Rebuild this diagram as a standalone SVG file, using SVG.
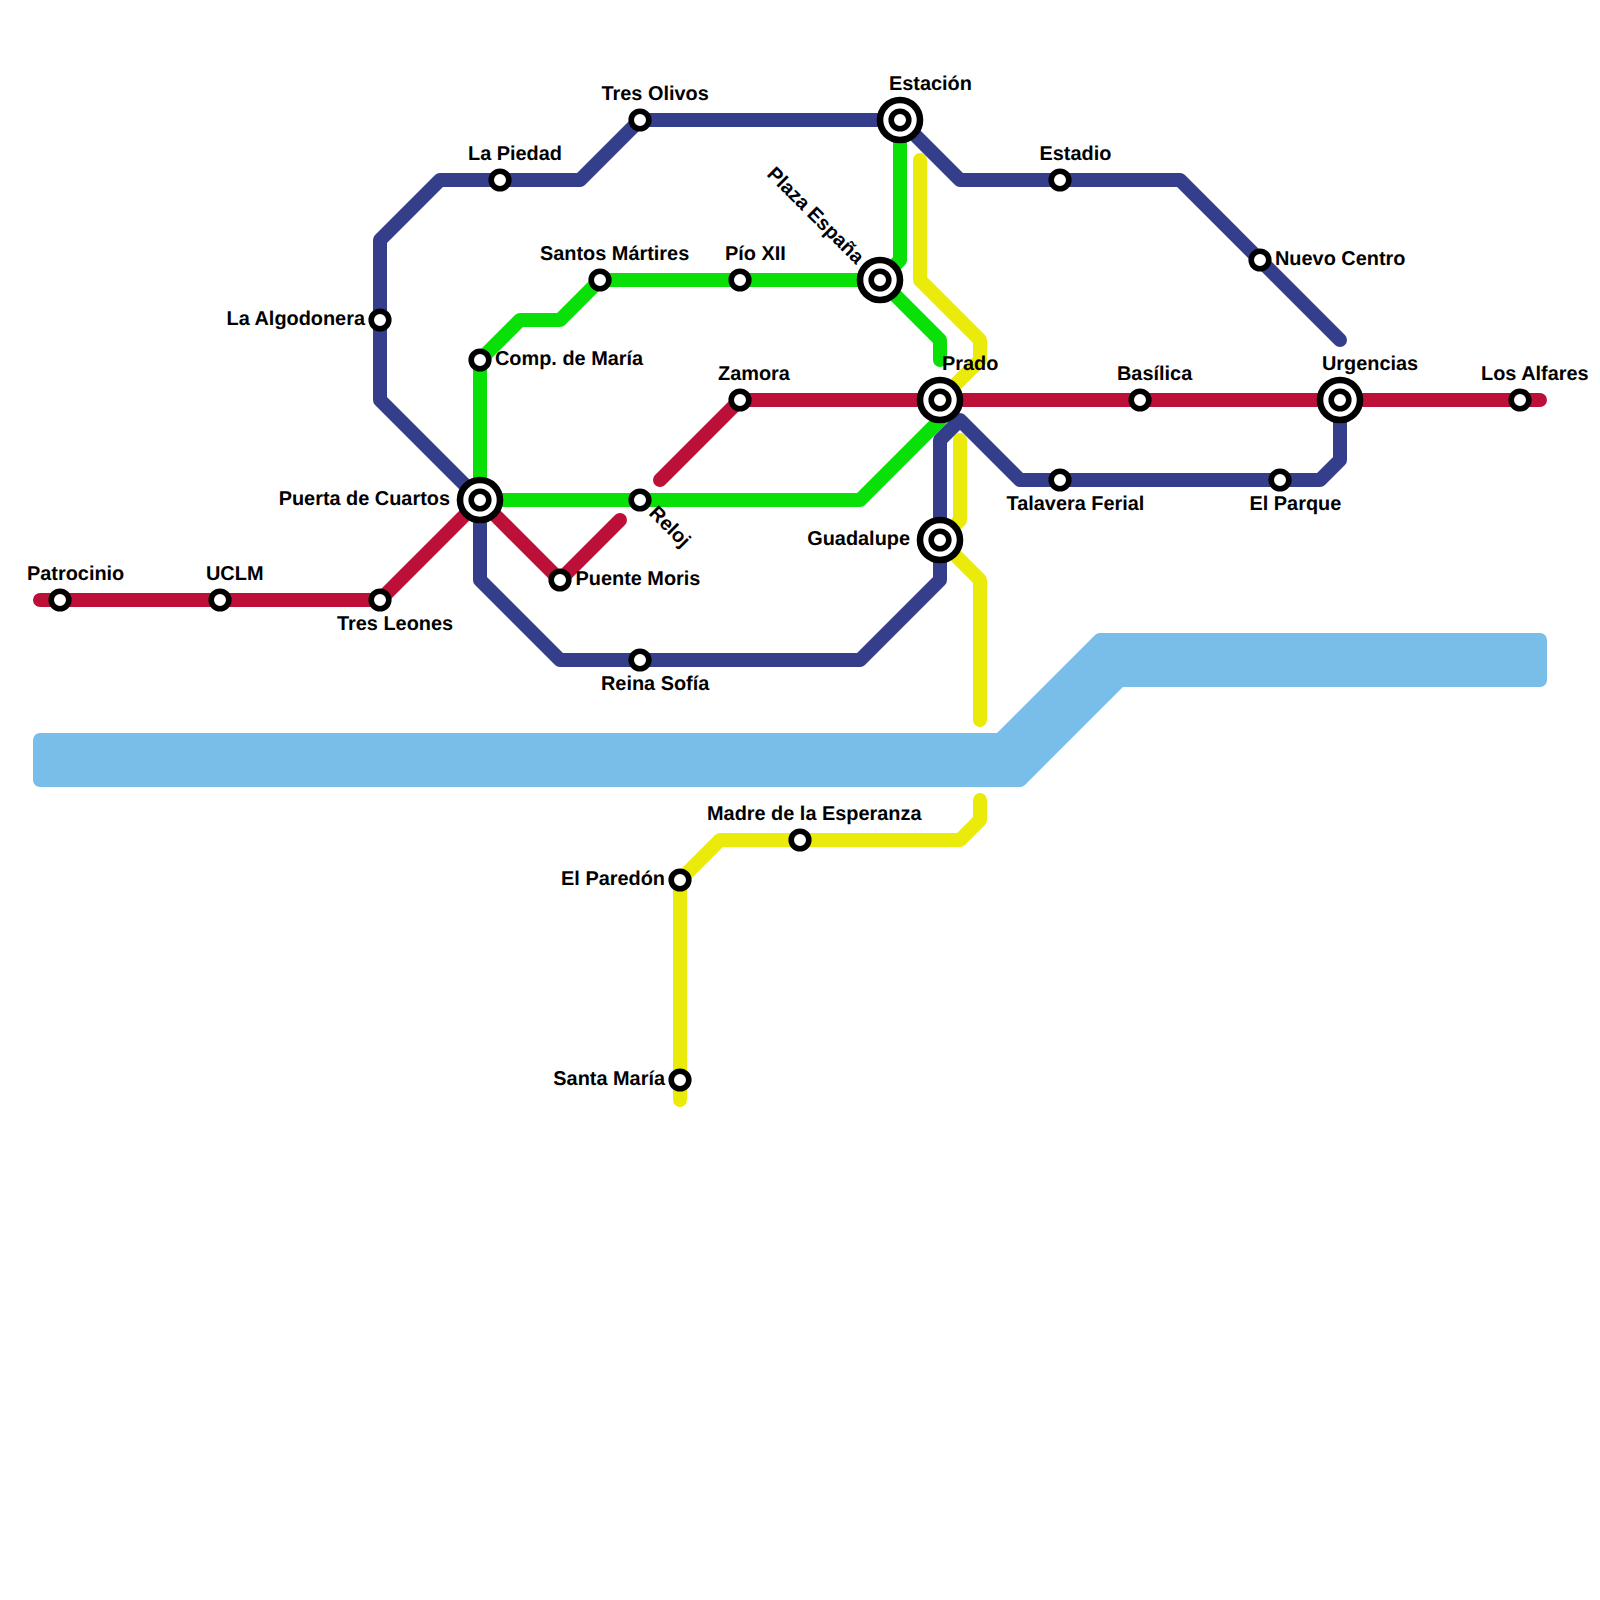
<svg xmlns="http://www.w3.org/2000/svg" width="1600" height="1600" viewBox="0 0 1600 1600">
<style>
.l{fill:none;stroke-width:14;stroke-linecap:round;stroke-linejoin:round}
.red{stroke:#bd1038}.blue{stroke:#353e8a}.green{stroke:#08e008}.yellow{stroke:#ebeb0b}
.o{fill:#fff;stroke:#000;stroke-width:6.6}
.s{fill:#fff;stroke:#000;stroke-width:5.6}
text{font-family:"Liberation Sans",Arial,sans-serif;font-weight:700;font-size:19.9px;fill:#000;text-rendering:geometricPrecision}
.e{text-anchor:end}
</style>
<rect width="1600" height="1600" fill="#fff"/>
<path id="river" d="M40 740H1000L1100 640H1540V680H1120L1020 780H40Z" fill="#79bde9" stroke="#79bde9" stroke-width="14" stroke-linejoin="round"/>
<g id="connectors">
<path class="l green" d="M940 360V340L880 280L900 260V120"/>
<path class="l green" d="M880 280H600L560 320H520L480 360V500H860L940 420"/>
<path class="l yellow" d="M920 160V280L980 340V360L940 400"/>
<path class="l yellow" d="M960 440V520L940 540L980 580V720"/>
<path class="l yellow" d="M980 800V820L960 840H720L680 880V1100"/>
<path class="l red" d="M40 600H380L480 500L560 580L620 520"/>
<path class="l red" d="M660 480L740 400H1540"/>
<path class="l blue" d="M1340 340L1180 180H960L900 120H640L580 180H440L380 240V400L480 500V580L560 660H860L940 580V440L960 420L1020 480H1320L1340 460V400"/>
</g>
<g id="patrocinio"><circle class="s" cx="60" cy="600" r="8.8"/><text x="27" y="580">Patrocinio</text></g>
<g id="uclm"><circle class="s" cx="220" cy="600" r="8.8"/><text x="206" y="579.5">UCLM</text></g>
<g id="tres-leones"><circle class="s" cx="380" cy="600" r="8.8"/><text x="337" y="630">Tres Leones</text></g>
<g id="puerta-de-cuartos"><circle class="o" cx="480" cy="500" r="20"/><circle class="s" cx="480" cy="500" r="8.8"/><text class="e" x="450" y="505">Puerta de Cuartos</text></g>
<g id="la-algodonera"><circle class="s" cx="380" cy="320" r="8.8"/><text class="e" x="365" y="325">La Algodonera</text></g>
<g id="la-piedad"><circle class="s" cx="500" cy="180" r="8.8"/><text x="468" y="160">La Piedad</text></g>
<g id="tres-olivos"><circle class="s" cx="640" cy="120" r="8.8"/><text x="601.5" y="100">Tres Olivos</text></g>
<g id="estacion"><circle class="o" cx="900" cy="120" r="20"/><circle class="s" cx="900" cy="120" r="8.8"/><text x="889" y="90">Estación</text></g>
<g id="estadio"><circle class="s" cx="1060" cy="180" r="8.8"/><text x="1039.500" y="160">Estadio</text></g>
<g id="nuevo-centro"><circle class="s" cx="1260" cy="260" r="8.8"/><text x="1275" y="265">Nuevo Centro</text></g>
<g id="santos-martires"><circle class="s" cx="600" cy="280" r="8.8"/><text x="540" y="260">Santos Mártires</text></g>
<g id="pio-xii"><circle class="s" cx="740" cy="280" r="8.8"/><text x="725" y="260">Pío XII</text></g>
<g id="plaza-espana"><circle class="o" cx="880" cy="280" r="20"/><circle class="s" cx="880" cy="280" r="8.8"/><text class="e" transform="translate(856 265) rotate(45)">Plaza España</text></g>
<g id="comp-de-maria"><circle class="s" cx="480" cy="360" r="8.8"/><text x="495" y="365">Comp. de María</text></g>
<g id="zamora"><circle class="s" cx="740" cy="400" r="8.8"/><text x="718" y="380">Zamora</text></g>
<g id="prado"><circle class="o" cx="940" cy="400" r="20"/><circle class="s" cx="940" cy="400" r="8.8"/><text x="942" y="370">Prado</text></g>
<g id="basilica"><circle class="s" cx="1140" cy="400" r="8.8"/><text x="1117" y="380">Basílica</text></g>
<g id="urgencias"><circle class="o" cx="1340" cy="400" r="20"/><circle class="s" cx="1340" cy="400" r="8.8"/><text x="1322" y="370">Urgencias</text></g>
<g id="los-alfares"><circle class="s" cx="1520" cy="400" r="8.8"/><text x="1481" y="380">Los Alfares</text></g>
<g id="talavera-ferial"><circle class="s" cx="1060" cy="480" r="8.8"/><text x="1006.500" y="510">Talavera Ferial</text></g>
<g id="el-parque"><circle class="s" cx="1280" cy="480" r="8.8"/><text x="1249.500" y="510">El Parque</text></g>
<g id="reloj"><circle class="s" cx="640" cy="500" r="8.8"/><text transform="translate(648 514) rotate(45)">Reloj</text></g>
<g id="guadalupe"><circle class="o" cx="940" cy="540" r="20"/><circle class="s" cx="940" cy="540" r="8.8"/><text class="e" x="910" y="545">Guadalupe</text></g>
<g id="puente-moris"><circle class="s" cx="560" cy="580" r="8.8"/><text x="575.500" y="584.500">Puente Moris</text></g>
<g id="reina-sofia"><circle class="s" cx="640" cy="660" r="8.8"/><text x="601" y="690">Reina Sofía</text></g>
<g id="madre-de-la-esperanza"><circle class="s" cx="800" cy="840" r="8.8"/><text x="707" y="820">Madre de la Esperanza</text></g>
<g id="el-paredon"><circle class="s" cx="680" cy="880" r="8.8"/><text class="e" x="665" y="885">El Paredón</text></g>
<g id="santa-maria"><circle class="s" cx="680" cy="1080" r="8.8"/><text class="e" x="665" y="1085">Santa María</text></g>
</svg>
